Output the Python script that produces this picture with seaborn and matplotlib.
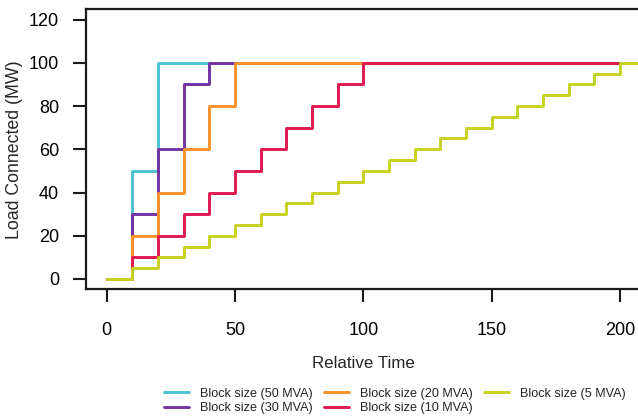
import matplotlib
matplotlib.use("Agg")
import matplotlib.pyplot as plt
import seaborn as sns
import pandas as pd

# ---- data ----
labels = ["Block size (50 MVA)", "Block size (30 MVA)", "Block size (20 MVA)",
          "Block size (10 MVA)", "Block size (5 MVA)"]
colors = ["#4BC3D2", "#7433A3", "#F8922B", "#DF1A4F", "#C6D21F"]

t_50 = [0, 10, 20, 200]
v_50 = [0, 50, 100, 100]
t_30 = [0, 10, 20, 30, 40, 200]
v_30 = [0, 30, 60, 90, 100, 100]
t_20 = [0, 10, 20, 30, 40, 50, 200]
v_20 = [0, 20, 40, 60, 80, 100, 100]
t_10 = [0, 10, 20, 30, 40, 50, 60, 70, 80, 90, 100, 200]
v_10 = [0, 10, 20, 30, 40, 50, 60, 70, 80, 90, 100, 100]
t_5 = [0, 10, 20, 30, 40, 50, 60, 70, 80, 90, 100, 110, 120, 130, 140, 150,
       160, 170, 180, 190, 200, 210]
v_5 = [0, 5, 10, 15, 20, 25, 30, 35, 40, 45, 50, 55, 60, 65, 70, 75,
       80, 85, 90, 95, 100, 100]

x_ticks = [0, 50, 100, 150, 200]
y_ticks = [0, 20, 40, 60, 80, 100, 120]

series = [(t_50, v_50), (t_30, v_30), (t_20, v_20), (t_10, v_10), (t_5, v_5)]
rows = []
for lab, (ts, vs) in zip(labels, series):
    for t, v in zip(ts, vs):
        rows.append({"time": t, "load": v, "series": lab})
df = pd.DataFrame(rows)

sns.set_style("white")
plt.rcParams["font.family"] = ["Liberation Sans", "DejaVu Sans"]

fig = plt.figure(figsize=(6.38, 4.18), dpi=100)
ax = fig.add_axes([86 / 638, 1 - 289.3 / 418, (640.7 - 86) / 638, (289.3 - 9.3) / 418])

sns.lineplot(data=df, x="time", y="load", hue="series", hue_order=labels,
             palette=colors, drawstyle="steps-post", linewidth=2.1,
             legend=False, ax=ax, sort=False, estimator=None)

ax.set_xlim(-8, 208)
ax.set_ylim(-4.8, 124.8)
ax.set_xticks(x_ticks)
ax.set_yticks(y_ticks)
ax.tick_params(axis="both", which="both", direction="out", length=9.5, width=1.5,
               colors="#1a1a1a", labelsize=13, labelcolor="black")
ax.tick_params(axis="x", pad=14)
ax.tick_params(axis="y", pad=10)
ax.xaxis.set_ticks_position("bottom")
ax.yaxis.set_ticks_position("left")
for sp in ax.spines.values():
    sp.set_linewidth(1.6)
    sp.set_color("#1a1a1a")
ax.set_xlabel("Relative Time", fontsize=12.2, labelpad=12)
ax.set_ylabel("Load Connected (MW)", fontsize=12.8, labelpad=4)

lines = ax.get_lines()[:5]
fig.legend(lines, labels, loc="center", bbox_to_anchor=(395 / 638, 1 - 401 / 418),
           ncol=3, frameon=False, fontsize=9.1, handlelength=2.0, handletextpad=0.87,
           columnspacing=0.87, labelspacing=0.2, borderpad=0, borderaxespad=0)

fig.savefig("out.png", dpi=100)
